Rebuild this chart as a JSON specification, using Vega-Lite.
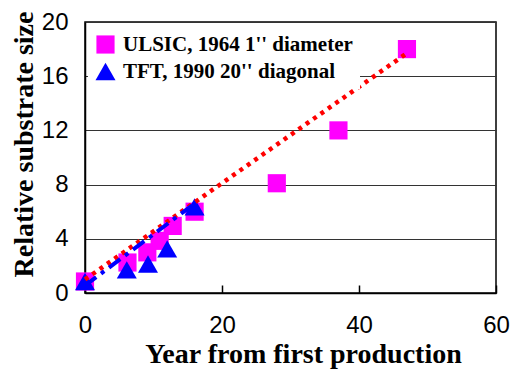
{
  "$schema": "https://vega.github.io/schema/vega-lite/v6.json",
  "width": 411,
  "height": 271,
  "autosize": {"type": "none"},
  "padding": {"left": 85, "top": 22, "right": 16, "bottom": 85},
  "background": "white",
  "config": {
    "view": {"stroke": "black", "strokeWidth": 1.5},
    "axis": {
      "labelFont": "Liberation Sans",
      "labelFontSize": 24,
      "labelColor": "black",
      "labelFlush": false,
      "labelOverlap": false,
      "titleFont": "Liberation Serif",
      "titleFontSize": 28,
      "titleFontWeight": "bold",
      "titleColor": "black",
      "domainColor": "black",
      "domainWidth": 1.5
    }
  },
  "datasets": {
    "pts": [
      {"series": "ULSIC, 1964 1'' diameter", "year": 0, "size": 0.85},
      {"series": "ULSIC, 1964 1'' diameter", "year": 6.2, "size": 2.25},
      {"series": "ULSIC, 1964 1'' diameter", "year": 9.1, "size": 3.0},
      {"series": "ULSIC, 1964 1'' diameter", "year": 10.9, "size": 3.85},
      {"series": "ULSIC, 1964 1'' diameter", "year": 12.8, "size": 4.95},
      {"series": "ULSIC, 1964 1'' diameter", "year": 16, "size": 6.0},
      {"series": "ULSIC, 1964 1'' diameter", "year": 28, "size": 8.1},
      {"series": "ULSIC, 1964 1'' diameter", "year": 37, "size": 12.0},
      {"series": "ULSIC, 1964 1'' diameter", "year": 47, "size": 18.0},
      {"series": "TFT, 1990 20'' diagonal", "year": 0, "size": 0.85},
      {"series": "TFT, 1990 20'' diagonal", "year": 6.1, "size": 1.7},
      {"series": "TFT, 1990 20'' diagonal", "year": 9.2, "size": 2.14},
      {"series": "TFT, 1990 20'' diagonal", "year": 12.0, "size": 3.25},
      {"series": "TFT, 1990 20'' diagonal", "year": 16, "size": 6.35}
    ],
    "trendU": [
      {"year": 0, "size": 1.0},
      {"year": 47, "size": 17.7}
    ],
    "trendT": [
      {"year": 0, "size": 0.55},
      {"year": 16, "size": 6.6}
    ]
  },
  "layer": [
    {
      "data": {"name": "pts"},
      "mark": {"type": "point", "filled": true, "opacity": 1},
      "encoding": {
        "x": {
          "field": "year", "type": "quantitative",
          "scale": {"domain": [0, 60], "nice": false},
          "axis": {
            "values": [0, 20, 40, 60],
            "grid": false,
            "tickSize": -8,
            "tickColor": "black",
            "tickWidth": 1.5,
            "labelPadding": 28,
            "title": "Year from first production",
            "titleX": 218,
            "titleY": 69,
            "titleBaseline": "alphabetic",
            "titleAnchor": "middle"
          }
        },
        "y": {
          "field": "size", "type": "quantitative",
          "scale": {"domain": [0, 20], "nice": false},
          "axis": {
            "values": [0, 4, 8, 12, 16, 20],
            "grid": true,
            "gridColor": "#333333",
            "gridWidth": 1,
            "ticks": false,
            "labelPadding": 17,
            "title": "Relative substrate size",
            "titleX": -53,
            "titleY": 122,
            "titleBaseline": "alphabetic",
            "titleAnchor": "middle"
          }
        },
        "color": {
          "field": "series", "type": "nominal",
          "scale": {"domain": ["ULSIC, 1964 1'' diameter", "TFT, 1990 20'' diagonal"], "range": ["#FF00FF", "#0000FF"]},
          "legend": {
            "orient": "none",
            "legendX": 3,
            "legendY": 5,
            "title": null,
            "fillColor": "white",
            "padding": 7,
            "symbolSize": 289,
            "symbolStrokeWidth": 0,
            "labelFont": "Liberation Serif",
            "labelFontWeight": "bold",
            "labelFontSize": 21,
            "labelColor": "black",
            "labelOffset": 7,
            "labelLimit": 400,
            "rowPadding": 5
          }
        },
        "shape": {
          "field": "series", "type": "nominal",
          "scale": {"domain": ["ULSIC, 1964 1'' diameter", "TFT, 1990 20'' diagonal"], "range": ["square", "triangle-up"]}
        },
        "size": {
          "field": "series", "type": "nominal",
          "scale": {"domain": ["ULSIC, 1964 1'' diameter", "TFT, 1990 20'' diagonal"], "range": [330, 400]},
          "legend": null
        },
        "order": {"field": "series", "sort": "descending"}
      }
    },
    {
      "data": {"name": "trendU"},
      "mark": {"type": "line", "color": "#FF0000", "strokeWidth": 4.5, "strokeDash": [4, 5]},
      "encoding": {
        "x": {"field": "year", "type": "quantitative"},
        "y": {"field": "size", "type": "quantitative"}
      }
    },
    {
      "data": {"name": "trendT"},
      "mark": {"type": "line", "color": "#0000FF", "strokeWidth": 4, "strokeDash": [14, 6, 4, 6]},
      "encoding": {
        "x": {"field": "year", "type": "quantitative"},
        "y": {"field": "size", "type": "quantitative"}
      }
    }
  ]
}
